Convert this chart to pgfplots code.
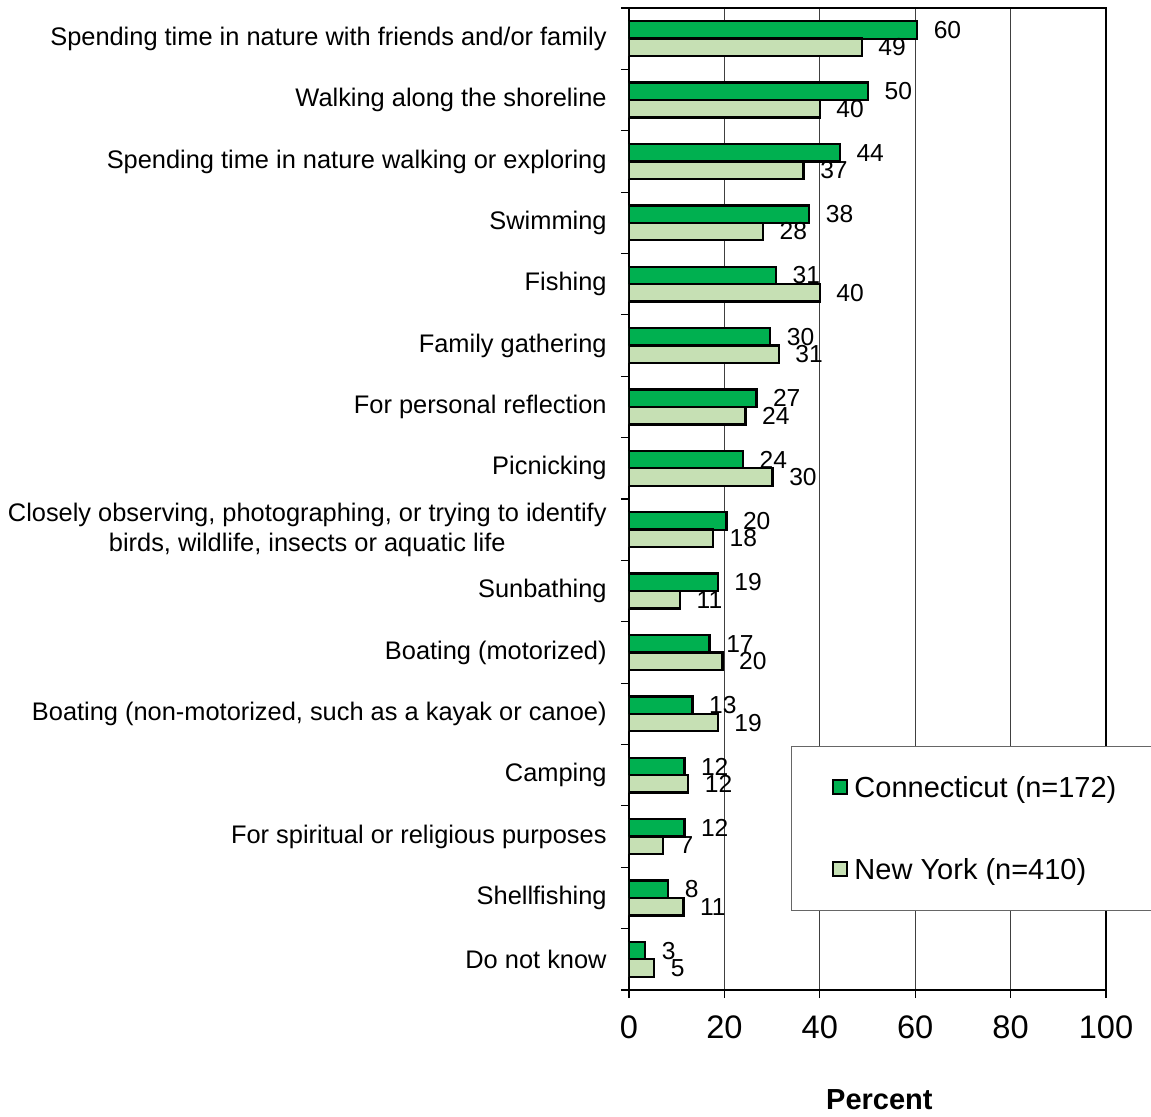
\documentclass[border=0pt]{standalone}
\usepackage{fontspec}
\setmainfont{Liberation Sans}
\usepackage{pgfplots}
\usepackage{pgfplotstable}
\pgfplotsset{compat=1.18}
\definecolor{ctgreen}{HTML}{00B050}
\definecolor{nygreen}{HTML}{C6E0B4}
\pgfplotstableread{
idx ct ny
0 60.4 48.8
1 50.1 40.0
2 44.2 36.6
3 37.8 28.1
4 30.8 40.0
5 29.6 31.4
6 26.7 24.4
7 23.9 30.1
8 20.4 17.6
9 18.6 10.7
10 16.9 19.6
11 13.3 18.6
12 11.6 12.4
13 11.6 7.1
14 8.2 11.4
15 3.4 5.3
}\data
\begin{document}
\begin{tikzpicture}
\path[use as bounding box] (-314.5pt,-63.5pt) rectangle (261pt,495pt);
\begin{axis}[
  at={(0pt,0pt)}, anchor=south west,
  scale only axis, width=238.5pt, height=491pt,
  xmin=0, xmax=100, ymin=-0.5, ymax=15.5, y dir=reverse,
  xbar, bar width=0.285,
  point meta=x,
  axis line style={line width=1.1pt},
  xtick={0,20,...,100},
  minor xtick={0,20,...,100},
  ytick={0,...,15},
  minor ytick={-0.5,0.5,...,15.5},
  yticklabels={
    {Spending time in nature with friends and/or family},
    {Walking along the shoreline},
    {Spending time in nature walking or exploring},
    {Swimming},
    {Fishing},
    {Family gathering},
    {For personal reflection},
    {Picnicking},
    {Closely observing, photographing, or trying to identify\\birds, wildlife, insects or aquatic life},
    {Sunbathing},
    {Boating (motorized)},
    {Boating (non-motorized, such as a kayak or canoe)},
    {Camping},
    {For spiritual or religious purposes},
    {Shellfishing},
    {Do not know}},
  yticklabel style={anchor=east, inner sep=0pt, align=center, xshift=-11pt, font=\fontsize{12.7}{15}\selectfont},
  xticklabel style={anchor=north, inner sep=0pt, yshift=-12.5pt, font=\fontsize{16.3}{19}\selectfont},
  /pgf/number format/assume math mode=true,
  tick align=outside, tick pos=left,
  major tick length=0pt, minor tick length=4pt,
  tick style={line width=0.6pt, black},
  xmajorgrids, major grid style={line width=0.5pt, black!75},
  xlabel={Percent},
  xlabel style={at={(axis description cs:0.525,-0.112)}, anchor=center, font=\bfseries\fontsize{14.5}{17}\selectfont},
  nodes near coords={\pgfmathprintnumber[fixed,precision=0]{\pgfplotspointmeta}},
  nodes near coords style={anchor=west, inner sep=0pt, xshift=7.75pt, font=\fontsize{12.3}{14}\selectfont, black},
  legend style={at={(rel axis cs:0.3396,0.2485)}, anchor=north west, draw=black!60, line width=0.5pt,
    font=\fontsize{14.5}{17}\selectfont, inner xsep=20.5pt, inner ysep=15.3pt, row sep=30.6pt,
    nodes={inner sep=0pt, text height=10.4pt, text depth=0pt},
    /tikz/every odd column/.append style={column sep=3pt}},
  legend cell align=left,
  legend image code/.code={\draw[#1, line width=1pt] (0pt,-3.5pt) rectangle (7pt,3.5pt);},
]
\addplot[fill=ctgreen, draw=black, line width=1.2pt, bar shift=-0.142] table[x=ct, y=idx]{\data};
\addplot[fill=nygreen, draw=black, line width=1.2pt, bar shift=0.142] table[x=ny, y=idx]{\data};
\legend{Connecticut (n=172), New York (n=410)}
\end{axis}
\end{tikzpicture}
\end{document}
